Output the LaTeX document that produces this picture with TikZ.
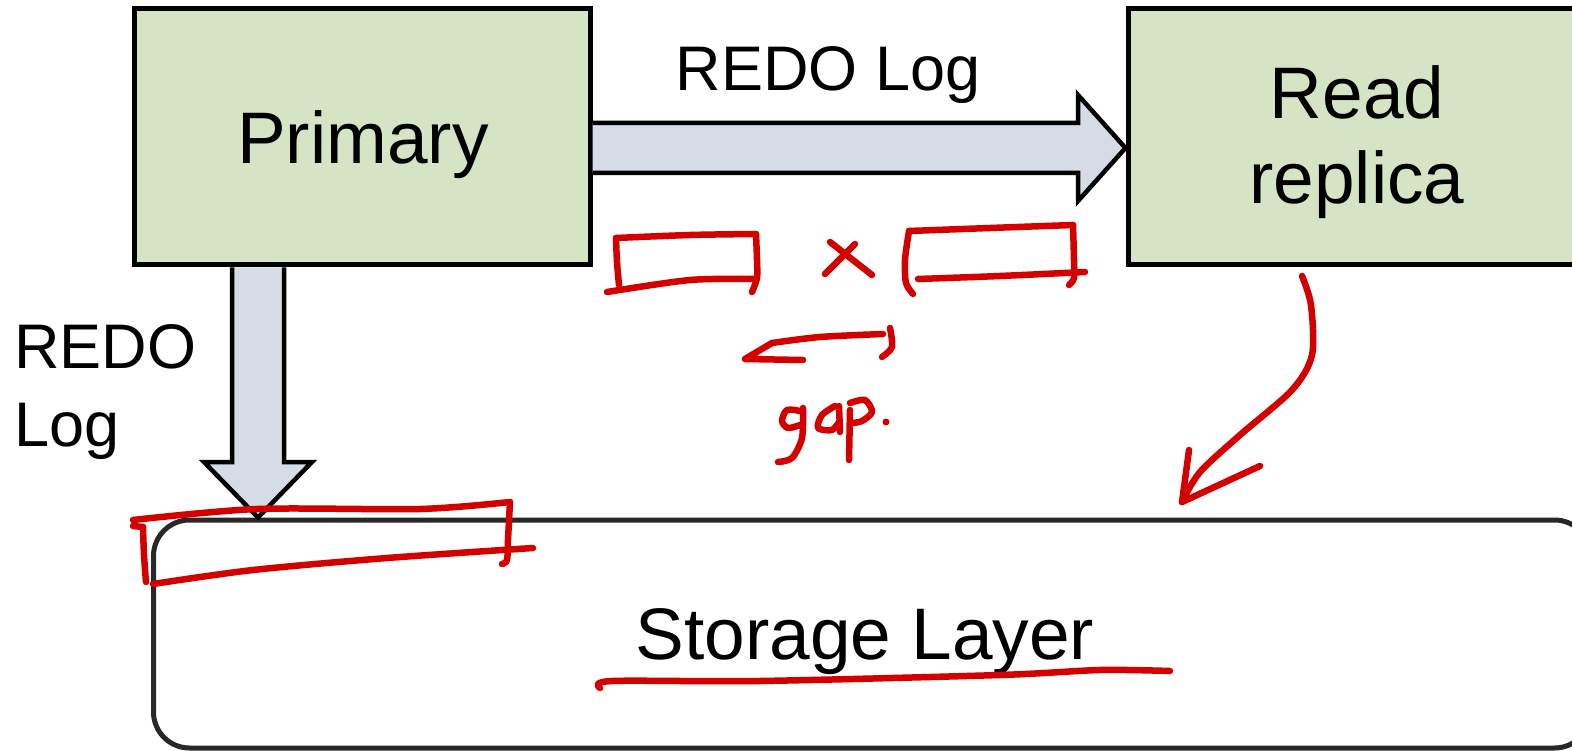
\documentclass[tikz,border=0pt]{standalone}
\usepackage{fontspec}
\setmainfont{Liberation Sans}
\definecolor{boxgreen}{RGB}{213,228,196}
\definecolor{pipefill}{RGB}{213,220,229}
\definecolor{ink}{RGB}{212,0,0}
\definecolor{edge}{RGB}{40,40,40}
\tikzset{
  greenbox/.style={draw=black, fill=boxgreen, line width=5pt, inner sep=0pt},
  storebox/.style={draw=edge, fill=white, line width=5pt, rounded corners=36pt, inner sep=0pt},
  pipe/.style={draw=black, fill=pipefill, line width=4.5pt, line join=miter},
  boxtext/.style={font=\fontsize{73}{85}\selectfont, inner sep=0pt},
  labeltext/.style={font=\fontsize{63}{78}\selectfont, inner sep=0pt},
  redink/.style={draw=ink, line width=6.5pt, line cap=round, line join=round}
}
\begin{document}
\begin{tikzpicture}[x=1pt, y=-1pt]
\useasboundingbox (0,0) rectangle (1572,751);
\clip (0,0) rectangle (1572,751);

% boxes
\node[greenbox, minimum width=456pt, minimum height=256pt] (primary) at (362,137) {};
\node[greenbox, minimum width=456pt, minimum height=256pt] (replica) at (1356,137) {};
\node[storebox, minimum width=1437pt, minimum height=228pt] (storage) at (872,634) {};

\node[boxtext, anchor=base] (tprimary) at (363,164) {Primary};
\node[boxtext, anchor=base] (tread) at (1357,119) {Read};
\node[boxtext, anchor=base] (treplica) at (1357,204) {replica};
\node[boxtext, anchor=base] (tstorage) at (865,659) {Storage Layer};

% block arrows
\coordinate (hstart) at (primary.east |- 0,148);
\coordinate (htip) at (replica.west |- 0,148);
\draw[pipe] ([yshift=25pt]hstart) -- (1078,123) -- (1078,95) -- (htip)
  -- (1078,201) -- (1078,173) -- ([yshift=-25pt]hstart);
\coordinate (vstart) at (primary.south -| 258,0);
\coordinate (vtip) at (storage.north -| 258,0);
\draw[pipe] ([xshift=-26pt]vstart) -- (232,462) -- (204,462) -- (vtip)
  -- (312,462) -- (284,462) -- ([xshift=26pt]vstart);

\node[labeltext, anchor=base] (lhor) at (828,91) {REDO Log};
\node[labeltext, anchor=base west] (lver) at (14,369) {REDO};
\node[labeltext, anchor=base west] (lver2) at (14,446) {Log};

% hand-drawn annotations
% first block
\draw[redink] plot[smooth] coordinates {(616,238) (617,262) (619,285)};
\draw[redink] plot[smooth] coordinates {(616,238) (690,235) (756,234)};
\draw[redink] plot[smooth] coordinates {(756,234) (757,260) (757,278) (752,292)};
\draw[redink] plot[smooth] coordinates {(607,292) (690,280) (755,279)};
% cross
\draw[redink] (830,242) -- (872,275);
\draw[redink] (855,244) -- (825,274);
% second block
\draw[redink] plot[smooth] coordinates {(909,231) (990,228) (1073,225)};
\draw[redink] plot[smooth] coordinates {(909,231) (905,260) (906,283) (913,294)};
\draw[redink] plot[smooth] coordinates {(918,279) (1000,276) (1085,272)};
\draw[redink] plot[smooth] coordinates {(1073,225) (1074,260) (1074,278) (1069,285)};
% gap arrow
\draw[redink] plot[smooth] coordinates {(883,334) (820,337) (772,343)};
\draw[redink] (772,343) -- (745,359) -- (803,360);
\draw[redink] plot[smooth] coordinates {(890,328) (892,347) (882,357)};
% "gap."
\draw[redink] plot[smooth] coordinates {(800,411) (787,410) (782,421) (788,428) (800,425)};
\draw[redink] plot[smooth] coordinates {(803,408) (802,438) (792,458) (778,462)};
\draw[redink] plot[smooth] coordinates {(835,406) (822,415) (818,428) (832,430) (839,422)};
\draw[redink] (839,406) -- (840,432);
\draw[redink] (850,410) -- (849,460);
\draw[redink] plot[smooth] coordinates {(850,403) (865,400) (872,412) (862,421) (852,423)};
\fill[ink] (886,422) circle (3.5pt);
% log block on the storage layer
\draw[redink] plot[smooth] coordinates {(133,520) (257,509) (420,509) (510,502)};
\draw[redink] (133,526) -- (143,527);
\draw[redink] plot[smooth] coordinates {(143,527) (144,555) (146,582)};
\draw[redink] plot[smooth] coordinates {(153,584) (253,570) (387,558) (533,548)};
\draw[redink] plot[smooth] coordinates {(510,502) (508,540) (507,560) (502,564)};
% replica to storage
\draw[redink] plot[smooth] coordinates {(1302,276) (1311,305) (1312,355) (1292,390) (1240,435) (1200,472) (1182,502)};
\draw[redink] plot[smooth] coordinates {(1189,450) (1185,480) (1182,502)};
\draw[redink] (1260,466) -- (1182,502);
% underline
\draw[redink] plot[smooth] coordinates {(600,688) (612,681) (760,681) (1000,675) (1100,670) (1170,671)};
\end{tikzpicture}
\end{document}
